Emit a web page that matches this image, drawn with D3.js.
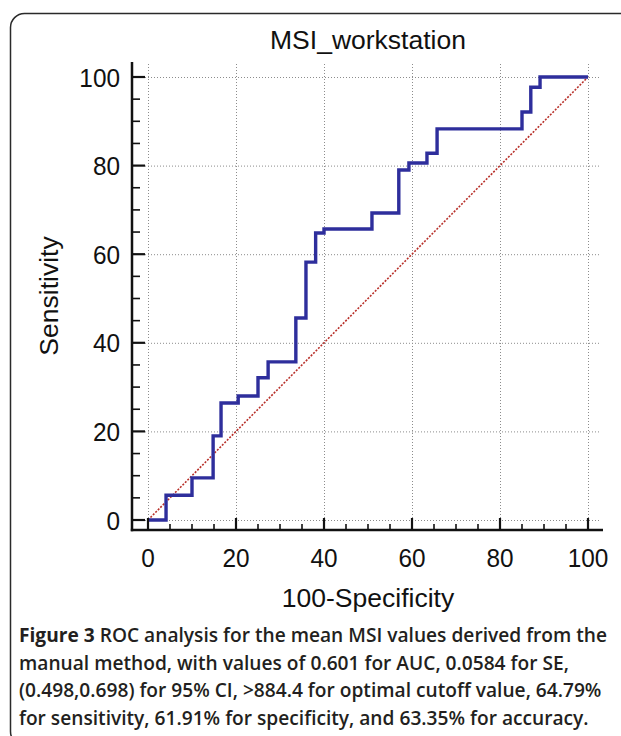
<!DOCTYPE html>
<html>
<head>
<meta charset="utf-8">
<script src="https://cdn.jsdelivr.net/npm/d3@7"></script>
<style>
  html, body { margin: 0; padding: 0; background: #fff; }
  svg { display: block; }
</style>
</head>
<body>
<div id="chart"></div>
<script>
// ROC vertices (100-Specificity, Sensitivity)
const fpr = [0, 4.1, 10.0, 14.8, 16.6, 20.5, 25.0, 27.3, 33.6, 35.9, 38.1, 40.0, 50.9, 57.0, 59.3, 63.4, 65.7, 85.0, 87.0, 89.1, 100];
const tpr = [0, 5.6, 9.5, 19.0, 26.4, 28.0, 32.1, 35.7, 45.6, 58.2, 64.8, 65.7, 69.3, 79.0, 80.6, 82.8, 88.3, 92.1, 97.7, 100, 100];
const majorTicks = [0, 20, 40, 60, 80, 100];
const minorTicks = d3.range(0, 101, 5).filter(v => v % 20 !== 0);

const title = "MSI_workstation";
const xTitle = "100-Specificity";
const yTitle = "Sensitivity";
const captionBold = "Figure 3";
const captionLines = [
  " ROC analysis for the mean MSI values derived from the",
  "manual method, with values of 0.601 for AUC, 0.0584 for SE,",
  "(0.498,0.698) for 95% CI, >884.4 for optimal cutoff value, 64.79%",
  "for sensitivity, 61.91% for specificity, and 63.35% for accuracy."
];

const width = 621;
const height = 736;

const svg = d3.select("#chart")
  .append("svg")
  .attr("width", width)
  .attr("height", height);

svg.append("rect")
  .attr("x", 10.5).attr("y", 13.5)
  .attr("width", 640).attr("height", 732)
  .attr("rx", 14).attr("ry", 14)
  .attr("fill", "#fff")
  .attr("stroke", "#2a2a2a")
  .attr("stroke-width", 1.5);

const x = d3.scaleLinear().domain([0, 100]).range([148, 588]);
const y = d3.scaleLinear().domain([0, 100]).range([520, 77]);

const axisX = 132;   // the axes sit off the plot area
const axisY = 530;

// dotted grid
const grid = svg.append("g")
  .attr("stroke", "#8c8c8c")
  .attr("stroke-width", 1)
  .attr("stroke-dasharray", "1,2");

grid.selectAll(".gx")
  .data(majorTicks)
  .enter()
  .append("line")
  .attr("x1", d => x(d) + 0.5).attr("x2", d => x(d) + 0.5)
  .attr("y1", 64).attr("y2", y(0));

grid.selectAll(".gy")
  .data(majorTicks)
  .enter()
  .append("line")
  .attr("x1", 145).attr("x2", 600)
  .attr("y1", d => y(d) + 0.5).attr("y2", d => y(d) + 0.5);

// diagonal
svg.append("line")
  .attr("x1", x(0)).attr("y1", y(0))
  .attr("x2", x(100)).attr("y2", y(100))
  .attr("stroke", "#b8302a")
  .attr("stroke-width", 1.6)
  .attr("stroke-dasharray", "2,1.5");

// ROC curve
const rocLine = d3.line()
  .x(d => x(d[0]))
  .y(d => y(d[1]))
  .curve(d3.curveStepAfter);

svg.append("path")
  .datum(d3.zip(fpr, tpr))
  .attr("d", rocLine)
  .attr("fill", "none")
  .attr("stroke", "#2e2e9c")
  .attr("stroke-width", 3.4)
  .attr("stroke-linejoin", "miter");

// axes
const axes = svg.append("g").attr("stroke", "#111").attr("fill", "none");

axes.append("line")
  .attr("x1", axisX).attr("x2", axisX)
  .attr("y1", 62).attr("y2", axisY + 1.2)
  .attr("stroke-width", 2.5);

axes.append("line")
  .attr("x1", axisX - 1.2).attr("x2", 603)
  .attr("y1", axisY).attr("y2", axisY)
  .attr("stroke-width", 2.5);

axes.selectAll(".ymaj")
  .data(majorTicks)
  .enter()
  .append("line")
  .attr("x1", axisX).attr("x2", 145)
  .attr("y1", d => y(d)).attr("y2", d => y(d))
  .attr("stroke-width", 2.2);

axes.selectAll(".ymin")
  .data(minorTicks)
  .enter()
  .append("line")
  .attr("x1", axisX).attr("x2", 140)
  .attr("y1", d => y(d)).attr("y2", d => y(d))
  .attr("stroke-width", 1.6);

axes.selectAll(".xmaj")
  .data(majorTicks)
  .enter()
  .append("line")
  .attr("x1", d => x(d)).attr("x2", d => x(d))
  .attr("y1", axisY).attr("y2", 518)
  .attr("stroke-width", 2.2);

axes.selectAll(".xmin")
  .data(minorTicks)
  .enter()
  .append("line")
  .attr("x1", d => x(d)).attr("x2", d => x(d))
  .attr("y1", axisY).attr("y2", 524)
  .attr("stroke-width", 1.6);

// tick labels, slightly condensed like the original
svg.selectAll(".ylab")
  .data(majorTicks)
  .enter()
  .append("text")
  .attr("transform", d => `translate(120,${y(d) + 9.5}) scale(0.92,1)`)
  .attr("text-anchor", "end")
  .style("font-family", "'Liberation Sans', Arial, sans-serif")
  .style("font-size", "26.5px")
  .attr("fill", "#111")
  .text(d => d);

svg.selectAll(".xlab")
  .data(majorTicks)
  .enter()
  .append("text")
  .attr("transform", d => `translate(${x(d)},567) scale(0.92,1)`)
  .attr("text-anchor", "middle")
  .style("font-family", "'Liberation Sans', Arial, sans-serif")
  .style("font-size", "26.5px")
  .attr("fill", "#111")
  .text(d => d);

svg.append("text")
  .attr("x", 368).attr("y", 49)
  .attr("text-anchor", "middle")
  .style("font-family", "'Liberation Sans', Arial, sans-serif")
  .style("font-size", "26.5px")
  .attr("fill", "#111")
  .text(title);

svg.append("text")
  .attr("x", 368).attr("y", 607)
  .attr("text-anchor", "middle")
  .style("font-family", "'Liberation Sans', Arial, sans-serif")
  .style("font-size", "26.5px")
  .attr("fill", "#111")
  .text(xTitle);

svg.append("text")
  .attr("transform", "translate(58,296) rotate(-90)")
  .attr("text-anchor", "middle")
  .style("font-family", "'Liberation Sans', Arial, sans-serif")
  .style("font-size", "26.5px")
  .attr("fill", "#111")
  .text(yTitle);

// caption: one shared horizontal scale so the first line fills the box
const caption = svg.append("g")
  .style("font-family", "'Open Sans', 'Noto Sans', sans-serif")
  .style("font-size", "19.2px")
  .attr("fill", "#231f20");

const captionTexts = captionLines.map((line, i) => {
  const t = caption.append("text")
    .attr("x", 0)
    .attr("y", 0);
  if (i === 0) {
    t.append("tspan").style("font-weight", "bold").text(captionBold);
  }
  t.append("tspan").style("font-weight", "600").text(line);
  return t;
});

const fit = 588 / captionTexts[0].node().getComputedTextLength();
captionTexts.forEach((t, i) => {
  t.attr("transform", `translate(19,${642 + i * 27.7}) scale(${fit},1)`);
});
</script>
</body>
</html>
